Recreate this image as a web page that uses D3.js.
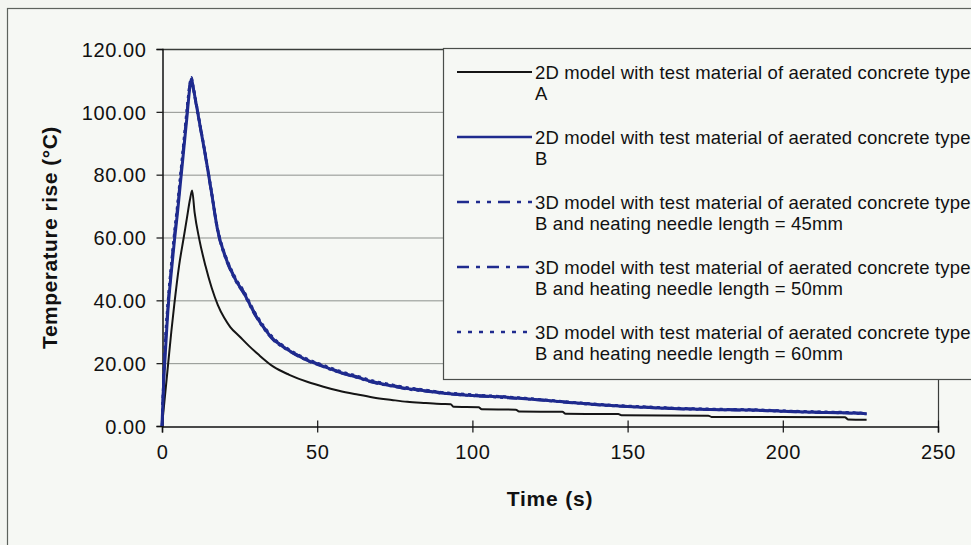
<!DOCTYPE html>
<html><head><meta charset="utf-8">
<script src="https://cdn.jsdelivr.net/npm/d3@7/dist/d3.min.js"></script>
<style>
html,body{margin:0;padding:0;background:#f3f5f1;}
svg{display:block;}
text{font-family:Arial,"Liberation Sans",Helvetica,sans-serif;}
</style></head>
<body>
<svg id="chart" width="971" height="545"></svg>
<script>
// ---- data ----
const xTicks = [0, 50, 100, 150, 200, 250];
const yTicks = [0, 20, 40, 60, 80, 100, 120];

const seriesNames = [
  ["2D model with test material of aerated concrete type", "A"],
  ["2D model with test material of aerated concrete type", "B"],
  ["3D model with test material of aerated concrete type", "B  and neating needle length = 45mm"],
  ["3D model with test material of aerated concrete type", "B  and heating needle length = 50mm"],
  ["3D model with test material of aerated concrete type", "B  and heating needle length = 60mm"]
];

const time2DA = [0, 1, 2, 3, 4, 5.5, 7, 8, 9, 9.7, 10.5, 12, 14, 16, 18, 20, 22, 25, 28, 31, 36, 41, 47, 52, 57, 63, 68, 74, 79, 85, 90, 93, 94, 102, 103, 114, 115, 129, 130, 147, 148, 176, 177, 220, 221, 227];
const temp2DA = [0, 10, 20, 30, 39, 51, 60, 66, 72, 75, 68, 59.5, 51, 44, 38.5, 34.5, 31.5, 28.5, 25.5, 22.8, 18.8, 16.3, 14, 12.5, 11.2, 10, 9.1, 8.3, 7.7, 7.3, 7.0, 6.9, 6.1, 6.0, 5.3, 5.2, 4.6, 4.5, 3.9, 3.8, 3.4, 3.3, 2.9, 2.8, 2.1, 2.0];

const timeB = [0, 0.5, 1, 2, 3, 4, 5, 6, 7, 8, 9, 9.5, 10, 12, 14, 16, 18, 20, 22, 24, 26, 30, 36, 40, 46, 52, 57, 63, 68, 74, 79, 85, 90, 100, 110, 117, 130, 143, 155, 170, 180, 192, 200, 210, 220, 227];
const temp2DB = [0, 13, 22, 38, 49, 59, 68, 78, 88, 98, 108, 110.5, 108, 97, 86, 74, 62, 55, 50, 46, 43, 35.5, 27.5, 24.6, 21.3, 19, 17.2, 15.5, 14, 12.8, 11.9, 11.2, 10.5, 9.7, 9.2, 8.7, 7.6, 6.6, 6.0, 5.4, 5.2, 5.0, 4.7, 4.4, 4.2, 3.9];
const temp3D45 = [0, 14, 24, 39, 50, 60, 69, 79, 89, 99, 108.5, 110, 107.5, 96.5, 85.5, 73.5, 61.5, 54.6, 49.6, 45.6, 42.6, 35.2, 27.2, 24.4, 21.1, 18.8, 17.0, 15.3, 13.8, 12.6, 11.7, 11.0, 10.4, 9.6, 9.0, 8.6, 7.5, 6.5, 5.9, 5.3, 5.1, 4.9, 4.6, 4.3, 4.1, 3.8];
const temp3D50 = [0, 15, 25, 40, 51, 61, 70, 80, 90, 100, 109, 110.8, 108.3, 97.3, 86.3, 74.3, 62.3, 55.3, 50.3, 46.3, 43.3, 35.8, 27.7, 24.8, 21.5, 19.2, 17.4, 15.7, 14.2, 13.0, 12.1, 11.4, 10.7, 9.9, 9.3, 8.8, 7.7, 6.7, 6.1, 5.5, 5.3, 5.1, 4.8, 4.5, 4.3, 4.0];
const temp3D60 = [0, 16, 27, 41, 52, 62, 71, 81, 91, 101, 109.5, 111, 108.6, 97.6, 86.6, 74.6, 62.6, 55.6, 50.6, 46.6, 43.6, 36.1, 28.0, 25.0, 21.7, 19.4, 17.6, 15.9, 14.4, 13.2, 12.3, 11.5, 10.8, 10.0, 9.4, 8.9, 7.8, 6.8, 6.2, 5.6, 5.4, 5.2, 4.9, 4.6, 4.4, 4.1];

// ---- layout ----
const svg = d3.select("#chart");
const plot = {left: 162, right: 938, top: 49, bottom: 426};
const black = "#151515", navy = "#1f2b8e";

// chart frame
svg.append("rect").attr("x", 7.5).attr("y", 8.5).attr("width", 1000).attr("height", 600)
  .attr("fill", "#f6f8f4").attr("stroke", "#5d625d").attr("stroke-width", 1.2);

const x = d3.scaleLinear().domain([0, 250]).range([plot.left, plot.right]);
const y = d3.scaleLinear().domain([0, 120]).range([plot.bottom, plot.top]);

// gridlines
svg.append("g").selectAll("line").data(yTicks.filter(d => d > 0)).join("line")
  .attr("x1", plot.left).attr("x2", plot.right)
  .attr("y1", d => y(d) + 0.5).attr("y2", d => y(d) + 0.5)
  .attr("stroke", d => d === 120 ? "#3a3d3a" : "#8d918d").attr("stroke-width", d => d === 120 ? 1.4 : 1);

// right border of plot area
svg.append("line").attr("x1", plot.right + 0.5).attr("x2", plot.right + 0.5)
  .attr("y1", plot.top).attr("y2", plot.bottom).attr("stroke", "#3a3d3a").attr("stroke-width", 1.2);

// axes
const yAxis = d3.axisLeft(y).tickValues(yTicks).tickFormat(d3.format(".2f")).tickSize(6).tickPadding(10);
const gy = svg.append("g").attr("transform", `translate(${plot.left + 0.5},0)`).call(yAxis);
const xAxis = d3.axisBottom(x).tickValues(xTicks).tickFormat(d3.format("d")).tickSize(6).tickPadding(12);
const gx = svg.append("g").attr("transform", `translate(0,${plot.bottom + 0.5})`).call(xAxis);
[gy, gx].forEach(g => {
  g.select(".domain").attr("stroke", "#111").attr("stroke-width", 1.5);
  g.selectAll(".tick line").attr("stroke", "#111").attr("stroke-width", 1.2);
  g.selectAll(".tick text").attr("font-size", 20).attr("fill", "#111").attr("letter-spacing", 0.6);
});
gx.selectAll(".tick line").attr("y1", -6);
gy.selectAll(".tick text").attr("dy", "0.36em");
gx.selectAll(".tick text").attr("dy", "0.71em");

// axis titles
svg.append("text").attr("x", (plot.left + plot.right) / 2).attr("y", 506)
  .attr("text-anchor", "middle").attr("font-size", 21).attr("font-weight", "bold")
  .attr("letter-spacing", 0.8).attr("fill", "#111").text("Time (s)");
svg.append("text").attr("transform", `translate(57,${(plot.top + plot.bottom) / 2}) rotate(-90)`)
  .attr("text-anchor", "middle").attr("font-size", 21).attr("font-weight", "bold")
  .attr("letter-spacing", 0.5).attr("fill", "#111").text("Temperature rise (°C)");

// series
const series = [
  {t: time2DA, v: temp2DA, color: black, width: 2, dash: null},
  {t: timeB, v: temp2DB, color: navy, width: 3, dash: null},
  {t: timeB, v: temp3D45, color: navy, width: 2.4, dash: "10,4,3,4,3,4"},
  {t: timeB, v: temp3D50, color: navy, width: 2.4, dash: "10,4,3,4"},
  {t: timeB, v: temp3D60, color: navy, width: 2.4, dash: "3,4"}
];
const line = d3.line().x(d => x(d[0])).y(d => y(d[1])).curve(d3.curveMonotoneX);
const gl = svg.append("g");
series.forEach(s => {
  gl.append("path").datum(s.t.map((t, i) => [t, s.v[i]]))
    .attr("d", line).attr("fill", "none").attr("stroke", s.color)
    .attr("stroke-width", s.width).attr("stroke-linejoin", "round")
    .attr("stroke-dasharray", s.dash);
});

// legend
const lg = svg.append("g");
lg.append("rect").attr("x", 443.5).attr("y", 48.5).attr("width", 600).attr("height", 331)
  .attr("fill", "#f6f8f4").attr("stroke", "#4a4e4a").attr("stroke-width", 1.2);
const legDash = [null, null, "12,7,4,7,4,7", "12,7,4,7", "4,7"];
series.forEach((s, i) => {
  const cy = 72 + i * 65;
  lg.append("line").attr("x1", 457).attr("x2", 532).attr("y1", cy).attr("y2", cy)
    .attr("stroke", s.color).attr("stroke-width", i === 0 ? 2 : 2.6)
    .attr("stroke-dasharray", legDash[i]);
  seriesNames[i].forEach((ln, j) => {
    lg.append("text").attr("x", 535).attr("y", cy + 6.6 + j * 21)
      .attr("font-size", 18.5).attr("fill", "#111").attr("letter-spacing", 0.15).text(ln);
  });
});
</script>
</body></html>
